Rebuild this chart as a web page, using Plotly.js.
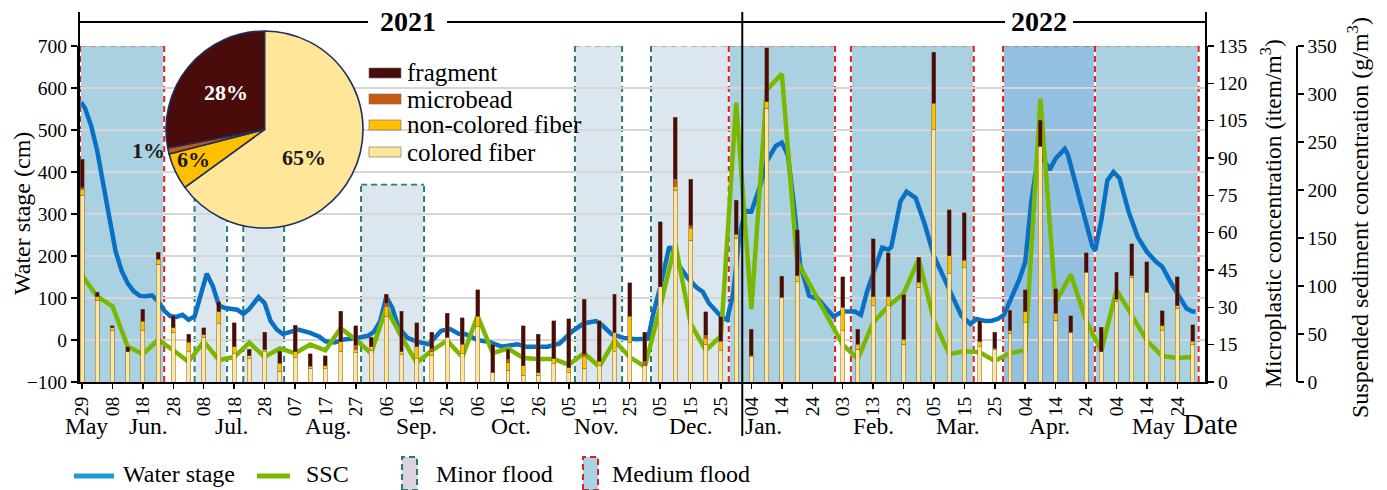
<!DOCTYPE html>
<html>
<head>
<meta charset="utf-8">
<script src="https://cdn.plot.ly/plotly-3.0.1.min.js"></script>
<style>
  html, body { margin: 0; padding: 0; background: #fff; }
  #chart { width: 1387px; height: 490px; }
</style>
</head>
<body>
<div id="chart"></div>
<script>
// ---- sampling campaign: one sample every five days ----
const sampleDates = [
  '2021-05-29','2021-06-03','2021-06-08','2021-06-13','2021-06-18','2021-06-23','2021-06-28',
  '2021-07-03','2021-07-08','2021-07-13','2021-07-18','2021-07-23','2021-07-28',
  '2021-08-02','2021-08-07','2021-08-12','2021-08-17','2021-08-22','2021-08-27',
  '2021-09-01','2021-09-06','2021-09-11','2021-09-16','2021-09-21','2021-09-26',
  '2021-10-01','2021-10-06','2021-10-11','2021-10-16','2021-10-21','2021-10-26','2021-10-31',
  '2021-11-05','2021-11-10','2021-11-15','2021-11-20','2021-11-25','2021-11-30',
  '2021-12-05','2021-12-10','2021-12-15','2021-12-20','2021-12-25','2021-12-30',
  '2022-01-04','2022-01-09','2022-01-14','2022-01-19',
  '2022-02-03','2022-02-08','2022-02-13','2022-02-18','2022-02-23','2022-02-28',
  '2022-03-05','2022-03-10','2022-03-15','2022-03-20','2022-03-25','2022-03-30',
  '2022-04-04','2022-04-09','2022-04-14','2022-04-19','2022-04-24','2022-04-29',
  '2022-05-04','2022-05-09','2022-05-14','2022-05-19','2022-05-24','2022-05-29'
];

// microplastic concentration by type (item/m3)
const coloredFiber = [
  75, 32.9, 20.8, 12.1, 20.6, 47.4, 19.9, 12.1, 17.9, 23.5,
  11.4, 9.4, 12.1, 4.4, 9.7, 5.6, 5.4, 12.4, 11.7, 12.8,
  26.5, 11.2, 9.4, 10.5, 17.9, 11.4, 22.2, 3.8, 4.7, 2.7,
  2.7, 7.4, 3.8, 5.6, 6.5, 12.1, 15.9, 6.5, 38.3, 77.1,
  57, 15.2, 12.8, 57.7,
  10.1, 109.9, 34, 40.3,
  20.6, 13.2, 30.6, 30.6, 15.2, 38,
  101.4, 43.4, 46, 14.1, 13.2, 19.5,
  23.9, 94.8, 24.9, 19.9, 44, 12.2,
  32.4, 42, 36, 20.6, 29.7, 15.2
];
const nonColoredFiber = [
  2.5, 1.3, 0.9, 0, 3.9, 1.9, 1.9, 3.8, 1.0, 4.7,
  2.7, 1.1, 0.9, 3.2, 2.4, 0.8, 1.1, 3.8, 1.5, 1.3,
  3.8, 0.9, 4.7, 1.6, 0, 3.8, 4.3, 0, 3.0, 3.8,
  1.1, 2.0, 1.9, 4.7, 1.9, 7.7, 10.6, 0, 0, 1.6,
  4.7, 2.3, 3.6, 1.7,
  0.5, 2.7, 0, 2.4,
  9.4, 2.0, 3.6, 3.6, 2.0, 2.0,
  10.7, 7.4, 3.0, 2.1, 0.4, 1.1,
  4.4, 0, 2.7, 0, 0, 0,
  0.9, 0.7, 0, 2.0, 0.9, 1.1
];
const microbead = [
  0.5, 0, 0, 0, 0, 0, 0, 0, 0, 0,
  0, 0, 0, 0, 0, 0, 0, 0, 1.6, 0,
  1.3, 0, 0, 1.3, 0, 0, 0, 0, 1.5, 0,
  0, 0, 0, 0.8, 0, 0, 0, 1.9, 0, 2.7,
  1.0, 1.3, 0, 0,
  0, 0, 0, 0,
  0, 0, 0, 0, 0, 0,
  0, 0, 0, 0, 0, 0,
  0, 0, 0, 0, 0, 0,
  0, 0, 0, 0, 0, 0
];
const fragment = [
  11.5, 1.8, 1.0, 2.0, 4.8, 2.9, 4.8, 3.2, 2.9, 4.1,
  9.7, 2.7, 6.9, 4.8, 10.7, 5.0, 4.0, 12.3, 7.8, 3.8,
  3.6, 16.4, 9.7, 6.5, 9.7, 10.6, 10.5, 11.4, 4.0, 16.1,
  15.3, 15.2, 19.8, 22.2, 16.2, 15.4, 13.4, 11.5, 26.1, 24.9,
  18.8, 9.4, 9.8, 13.7,
  10.6, 21.7, 8.4, 18.4,
  12.3, 6.0, 23.3, 17.7, 17.9, 10.1,
  20.3, 18.4, 19, 8.4, 6.3, 8.3,
  8.8, 10.4, 9.8, 6.7, 7.9, 9.7,
  10.7, 12.8, 12.4, 6.0, 11.7, 6.7
];

// suspended sediment concentration (g/m3) at the same samples
const ssc = [
  111, 89, 79, 37, 29, 44, 33, 21, 42, 23,
  26, 41, 26, 35, 30, 39, 33, 56, 44, 30,
  77, 47, 20, 33, 43, 26, 69, 30, 35, 25,
  24, 24, 18, 30, 16, 43, 26, 16, 78, 144,
  61, 33, 48, 291,
  76, 304, 321, 126,
  39, 24, 62, 79, 92, 128,
  64, 29, 32, 31, 22, 30,
  33, 295, 83, 112, 64, 32,
  96, 69, 43, 27, 25, 26
];

// water stage record (cm)
const stageDates = [
  '2021-05-28T16:00','2021-05-30','2021-06-01','2021-06-03','2021-06-05','2021-06-07','2021-06-09',
  '2021-06-11','2021-06-13','2021-06-15','2021-06-17','2021-06-19','2021-06-21','2021-06-23',
  '2021-06-25','2021-06-27','2021-06-29','2021-07-01','2021-07-03','2021-07-05','2021-07-07',
  '2021-07-09','2021-07-11','2021-07-13','2021-07-15','2021-07-17','2021-07-19','2021-07-21',
  '2021-07-23','2021-07-26','2021-07-28','2021-07-30','2021-08-01','2021-08-03','2021-08-05',
  '2021-08-08','2021-08-12','2021-08-15','2021-08-17','2021-08-20','2021-08-23','2021-08-27',
  '2021-08-31','2021-09-02','2021-09-04','2021-09-06','2021-09-08','2021-09-10','2021-09-13',
  '2021-09-16','2021-09-20','2021-09-22','2021-09-24','2021-09-27','2021-09-30','2021-10-02',
  '2021-10-06','2021-10-10','2021-10-14','2021-10-19','2021-10-22','2021-10-29','2021-11-02',
  '2021-11-06','2021-11-10','2021-11-14','2021-11-16','2021-11-19','2021-11-23','2021-11-27',
  '2021-12-01','2021-12-03','2021-12-05','2021-12-08','2021-12-09','2021-12-11','2021-12-14',
  '2021-12-17','2021-12-19','2021-12-21','2021-12-23','2021-12-25','2021-12-27','2021-12-29',
  '2021-12-31','2022-01-02','2022-01-04','2022-01-07','2022-01-09','2022-01-12','2022-01-14',
  '2022-01-16','2022-01-18','2022-01-20','2022-01-23','2022-01-26','2022-01-29','2022-01-31',
  '2022-02-03','2022-02-07','2022-02-09','2022-02-11','2022-02-13','2022-02-16','2022-02-18',
  '2022-02-19','2022-02-22','2022-02-24','2022-02-27','2022-03-02','2022-03-05','2022-03-08',
  '2022-03-11','2022-03-14','2022-03-17','2022-03-19','2022-03-22','2022-03-24','2022-03-26',
  '2022-03-28','2022-03-30','2022-04-02','2022-04-04','2022-04-06','2022-04-08','2022-04-09',
  '2022-04-11','2022-04-12','2022-04-14','2022-04-17','2022-04-18','2022-04-21','2022-04-24',
  '2022-04-26','2022-04-27','2022-04-29','2022-05-01','2022-05-03','2022-05-05','2022-05-08',
  '2022-05-11','2022-05-14','2022-05-17','2022-05-19','2022-05-22','2022-05-25','2022-05-27',
  '2022-05-29','2022-05-30'
];
const waterStage = [
  566, 552, 510, 450, 370, 290, 212,
  165, 135, 116, 105, 104, 106, 92,
  70, 57, 55, 60, 48, 56, 112,
  158, 128, 82, 76, 74, 72, 62,
  74, 102, 88, 45, 25, 14, 18,
  25, 17, 8, -3, -6, 1, 4,
  10, 20, 45, 103, 76, 30, 5,
  -4, -10, 5, 22, 26, 14, 14,
  0, -5, -16, -10, -16, -16, -8,
  20, 40, 45, 35, 14, 5, 2,
  3, 70, 125, 222, 215, 180, 148,
  125, 115, 88, 70, 56, 48, 110,
  245, 308, 306, 370, 425, 462, 470,
  440, 320, 180, 105, 97, 72, 56,
  68, 68, 60, 115, 158, 220, 215,
  222, 330, 353, 338, 275, 200, 155,
  105, 58, 38, 50, 45, 46, 50,
  60, 92, 143, 185, 330, 425, 440,
  418, 405, 432, 455, 442, 358, 282,
  225, 213, 285, 380, 400, 385, 305,
  245, 210, 186, 175, 135, 100, 75,
  68, 68
];

// composition of all microplastics (%)
const pieLabels = ['colored fiber', 'non-colored fiber', 'microbead', 'fragment'];
const pieValues = [65, 6, 1, 28];

// flood periods: [start, end, top of shaded band (cm)]
const minorFloods = [
  ['2021-07-05', '2021-07-15T16:00', 420],
  ['2021-07-21', '2021-08-03T10:00', 420],
  ['2021-08-28T17:00', '2021-09-18T10:00', 370],
  ['2021-11-07', '2021-11-22T12:00', 700],
  ['2021-12-02', '2021-12-27T14:00', 700]
];
const mediumFloods = [
  ['2021-05-28T08:00', '2021-06-25'],
  ['2021-12-27T14:00', '2022-01-31T12:00'],
  ['2022-02-05T17:00', '2022-03-18T02:00'],
  ['2022-03-27T17:00', '2022-04-26T22:00'],
  ['2022-04-26T22:00', '2022-05-31']
];

// month labels under the day ticks
const monthNames = ['May', 'Jun.', 'Jul.', 'Aug.', 'Sep.', 'Oct.', 'Nov.', 'Dec.',
                    'Jan.', 'Feb.', 'Mar.', 'Apr.', 'May'];
const monthCenters = ['2021-05-30T12:00', '2021-06-20', '2021-07-17', '2021-08-18', '2021-09-16',
                      '2021-10-17', '2021-11-14', '2021-12-15', '2022-01-08', '2022-02-13',
                      '2022-03-13', '2022-04-12', '2022-05-16'];
const years = ['2021', '2022'];

// ---- colours ----
const C = {
  colored: '#ffe699', noncolored: '#ffc000', bead: '#c55a11', frag: '#4a0b0b',
  stage: '#0a70c4', ssc: '#7ab800',
  minorFill: '#dce6ee', minorLine: '#2f7a70',
  mediumFill: '#a9d1e2', mediumDark: '#93bfe0', mediumLine: '#e0201c'
};
const SERIF = 'Liberation Serif, Times New Roman, serif';

// ---- pixel <-> paper helpers for decorations placed around the plot ----
const ML = 79, MR = 181, MT = 10, MB = 108, W = 1387, H = 490;
const PW = W - ML - MR, PH = H - MT - MB, PB = H - MB;
const px = x => (x - ML) / PW;
const py = y => (PB - y) / PH;
const yDomTop = py(46);

const barWidth = 1.3 * 86400000;
const barLine = { color: 'rgba(130,100,60,0.75)', width: 0.7 };

const traces = [
  { type: 'scatter', mode: 'lines', x: stageDates, y: waterStage, yaxis: 'y',
    line: { color: C.stage, width: 4.5 }, name: 'Water stage', hoverinfo: 'skip' },
  { type: 'scatter', mode: 'lines', x: sampleDates, y: ssc, yaxis: 'y2',
    line: { color: C.ssc, width: 4.5 }, name: 'SSC', hoverinfo: 'skip' },
  { type: 'bar', x: sampleDates, y: coloredFiber, yaxis: 'y3', width: barWidth,
    marker: { color: C.colored, line: barLine }, name: 'colored fiber' },
  { type: 'bar', x: sampleDates, y: nonColoredFiber, yaxis: 'y3', width: barWidth,
    marker: { color: C.noncolored, line: barLine }, name: 'non-colored fiber' },
  { type: 'bar', x: sampleDates, y: microbead, yaxis: 'y3', width: barWidth,
    marker: { color: C.bead, line: barLine }, name: 'microbead' },
  { type: 'bar', x: sampleDates, y: fragment, yaxis: 'y3', width: barWidth,
    marker: { color: C.frag, line: barLine }, name: 'fragment' },
  { type: 'pie', labels: pieLabels, values: pieValues, sort: false, direction: 'clockwise',
    rotation: 0, textinfo: 'none', hoverinfo: 'skip',
    marker: { colors: [C.colored, C.noncolored, C.bead, C.frag], line: { color: '#1c2f5e', width: 1.6 } },
    domain: { x: [px(166), px(363)], y: [py(228), py(31)] } }
];

const shapes = [];
const annotations = [];
function label(x, y, text, size, opts) {
  annotations.push(Object.assign({ xref: 'paper', yref: 'paper', x: x, y: y, text: text, showarrow: false,
    xanchor: 'center', yanchor: 'middle', font: { family: SERIF, size: size, color: '#000' } }, opts || {}));
}

// flood bands
function floodBand(start, end, top, fill, edge) {
  shapes.push({ type: 'rect', xref: 'x', yref: 'y', x0: start, x1: end, y0: -100, y1: top,
    fillcolor: fill, line: { width: 0 }, layer: 'below' });
  [start, end].forEach(d => {
    shapes.push({ type: 'line', xref: 'x', yref: 'y', x0: d, x1: d, y0: -100, y1: top,
      line: { color: '#ffffff', width: 2 }, layer: 'below' });
    shapes.push({ type: 'line', xref: 'x', yref: 'y', x0: d, x1: d, y0: -100, y1: top,
      line: { color: edge, width: 2, dash: '6px,4px' }, layer: 'below' });
  });
  shapes.push({ type: 'line', xref: 'x', yref: 'y', x0: start, x1: end, y0: top, y1: top,
    line: { color: edge, width: 1.6, dash: '6px,4px' }, opacity: top >= 700 ? 0.45 : 1, layer: 'below' });
}
minorFloods.forEach(f => floodBand(f[0], f[1], f[2], C.minorFill, C.minorLine));
mediumFloods.forEach((f, i) => floodBand(f[0], f[1], 700, i === 3 ? C.mediumDark : C.mediumFill, C.mediumLine));

// frame above the plot: axis extensions, year rule and the year divider
shapes.push({ type: 'line', xref: 'paper', yref: 'paper', x0: 0, x1: 0, y0: py(382), y1: py(12), line: { color: '#000', width: 2 } });
shapes.push({ type: 'line', xref: 'paper', yref: 'paper', x0: 1, x1: 1, y0: py(382), y1: py(12), line: { color: '#000', width: 2 } });
[[79, 368], [447, 1005], [1073, 1206]].forEach(s => {
  shapes.push({ type: 'line', xref: 'paper', yref: 'paper', x0: px(s[0]), x1: px(s[1]), y0: py(22), y1: py(22), line: { color: '#000', width: 2 } });
});
shapes.push({ type: 'line', xref: 'x', yref: 'paper', x0: '2022-01-01', x1: '2022-01-01', y0: py(436), y1: py(12), line: { color: '#000', width: 2 } });
label(px(408), py(22), '<b>' + years[0] + '</b>', 28);
label(px(1039), py(22), '<b>' + years[1] + '</b>', 28);

// month names and the axis word
monthNames.forEach((m, i) => {
  label(monthCenters[i], py(426), m, 23.5, { xref: 'x' });
});
label(px(1210), py(424), 'Date', 29);

// axis titles
label(px(22), py(214), 'Water stage (cm)', 24, { textangle: -90 });
label(px(1271), py(214), 'Microplastic concentration (item/m<sup>3</sup>)', 23.5, { textangle: -90 });
label(px(1358), py(218), 'Suspended sediment concentration (g/m<sup>3</sup>)', 24, { textangle: -90 });

// pie percentage labels
const pieLabelPos = [[304, 157, '#1a1a1a'], [193, 159, '#1a1a1a'], [148, 150, '#1a1a1a'], [226, 92, '#ffffff']];
pieValues.forEach((v, i) => {
  const p = pieLabelPos[i];
  label(px(p[0]), py(p[1]), '<b>' + v + '%</b>', 22, { font: { family: SERIF, size: 22, color: p[2] } });
});

// type key beside the pie
const typeKey = [['fragment', C.frag], ['microbead', C.bead], ['non-colored fiber', C.noncolored], ['colored fiber', C.colored]];
const keyRows = [73, 99, 125, 152];
typeKey.forEach((k, i) => {
  const r = keyRows[i];
  shapes.push({ type: 'rect', xref: 'paper', yref: 'paper', x0: px(369), x1: px(401), y0: py(r + 5), y1: py(r - 5),
    fillcolor: k[1], line: { color: 'rgba(110,110,110,0.8)', width: 0.8 } });
  label(px(405), py(r), k[0], 25, { xanchor: 'left' });
});

// bottom key
shapes.push({ type: 'line', xref: 'paper', yref: 'paper', x0: px(74), x1: px(114), y0: py(476), y1: py(476), line: { color: '#1d9bd7', width: 5 } });
shapes.push({ type: 'line', xref: 'paper', yref: 'paper', x0: px(257), x1: px(290), y0: py(476), y1: py(476), line: { color: C.ssc, width: 5 } });
shapes.push({ type: 'rect', xref: 'paper', yref: 'paper', x0: px(402), x1: px(417), y0: py(490), y1: py(457),
  fillcolor: '#dcd3de', line: { color: C.minorLine, width: 2, dash: '6px,4px' } });
shapes.push({ type: 'rect', xref: 'paper', yref: 'paper', x0: px(583), x1: px(598), y0: py(490), y1: py(457),
  fillcolor: '#a8d3e4', line: { color: C.mediumLine, width: 2, dash: '6px,4px' } });
[['Water stage', 121], ['SSC', 304], ['Minor flood', 434], ['Medium flood', 610]].forEach(t => {
  label(px(t[1]), py(474), t[0], 24, { xanchor: 'left' });
});

const axisCommon = { showline: true, linecolor: '#000', linewidth: 2, ticks: 'outside', ticklen: 6, tickwidth: 1.5,
  tickcolor: '#000', zeroline: false, fixedrange: true, tickfont: { family: SERIF, size: 19.5, color: '#000' } };

const layout = {
  width: W, height: H,
  margin: { l: ML, r: MR, t: MT, b: MB, pad: 0 },
  paper_bgcolor: '#ffffff', plot_bgcolor: '#ffffff',
  showlegend: false, barmode: 'stack', hovermode: false,
  font: { family: SERIF, color: '#000' },
  xaxis: Object.assign({}, axisCommon, {
    type: 'date', range: ['2021-05-28', '2022-06-02T10:00'],
    tick0: '2021-05-29', dtick: 10 * 86400000, tickformat: '%d', tickangle: -90, ticklen: 5,
    showgrid: false
  }),
  yaxis: Object.assign({}, axisCommon, {
    domain: [0, yDomTop], range: [-100, 700], dtick: 100,
    showgrid: true, gridcolor: '#d6d6d6', gridwidth: 1.5
  }),
  yaxis2: Object.assign({}, axisCommon, {
    domain: [0, yDomTop], overlaying: 'y', side: 'right', anchor: 'free', position: 1, shift: 1296 - 1206,
    range: [0, 350], dtick: 50, showgrid: false, linewidth: 1.5
  }),
  yaxis3: Object.assign({}, axisCommon, {
    domain: [0, yDomTop], overlaying: 'y', side: 'right', anchor: 'x',
    range: [0, 135], dtick: 15, showgrid: false
  }),
  shapes: shapes,
  annotations: annotations
};

Plotly.newPlot('chart', traces, layout, { staticPlot: true, displayModeBar: false });
</script>
</body>
</html>
